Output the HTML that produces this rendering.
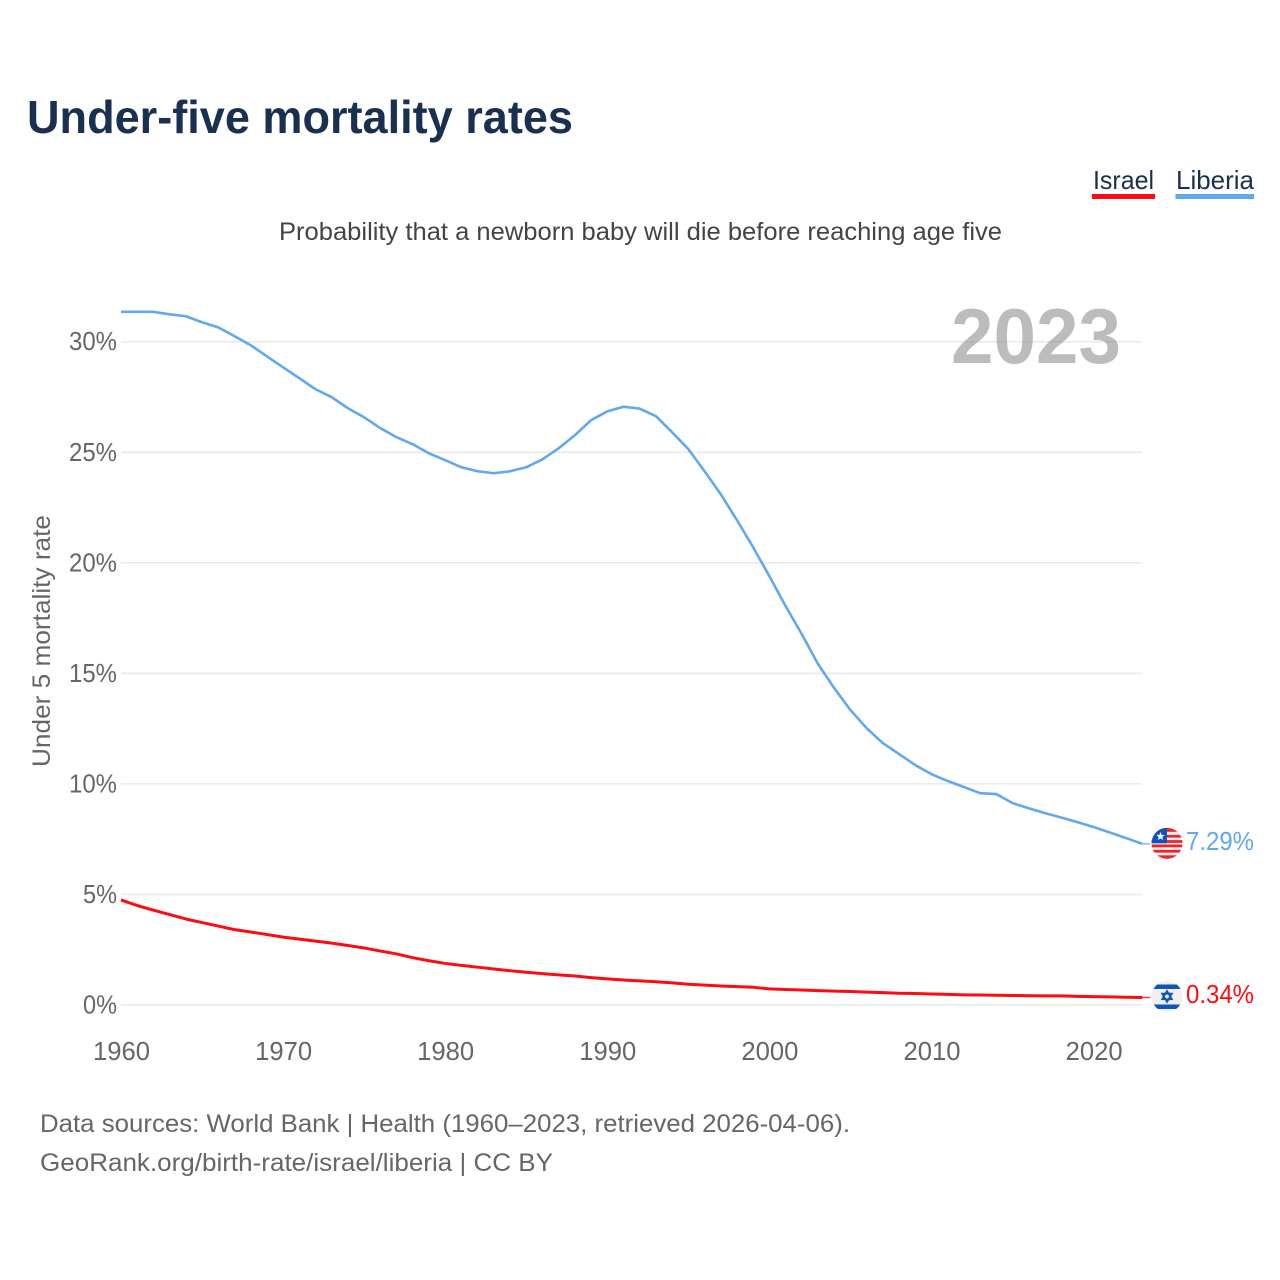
<!DOCTYPE html>
<html lang="en">
<head>
<meta charset="utf-8">
<title>Under-five mortality rates</title>
<style>
html,body{margin:0;padding:0;background:#fff;width:1280px;height:1280px;overflow:hidden}
svg{display:block}
text{font-family:"Liberation Sans",sans-serif}
</style>
</head>
<body>
<svg id="chart" xmlns="http://www.w3.org/2000/svg" width="1280" height="1280" viewBox="0 0 1280 1280">
  <defs>
    <clipPath id="flag-clip-a"><circle cx="0" cy="0" r="15.5"/></clipPath>
  </defs>
  <rect x="0" y="0" width="1280" height="1280" fill="#fff"/>
  <text x="27" y="133" font-size="46" font-weight="700" fill="#1a3050" textLength="546" lengthAdjust="spacingAndGlyphs">Under-five mortality rates</text>
  <text x="279" y="240" font-size="25" fill="#444" textLength="723" lengthAdjust="spacingAndGlyphs">Probability that a newborn baby will die before reaching age five</text>

  <g>
    <text x="1093" y="189" font-size="26" fill="#1a3050" textLength="61" lengthAdjust="spacingAndGlyphs">Israel</text>
    <rect x="1092" y="194" width="63" height="5" fill="#ff0a12"/>
    <text x="1176" y="189" font-size="26" fill="#1a3050" textLength="78" lengthAdjust="spacingAndGlyphs">Liberia</text>
    <rect x="1175.500" y="194" width="78.500" height="5" fill="#62a8ef"/>
  </g>

  <text transform="translate(50,767) rotate(-90)" x="0" y="0" font-size="25" fill="#666" textLength="252" lengthAdjust="spacingAndGlyphs">Under 5 mortality rate</text>
  <g id="grid"></g>
  <g id="yticks"></g>
  <g id="xticks"></g>

  <text x="951" y="363" font-size="78" font-weight="700" fill="#8f9091" opacity="0.6" textLength="170" lengthAdjust="spacingAndGlyphs">2023</text>

  <g id="lines"></g>
  <g id="ends"></g>

  <g id="flag-liberia-art" clip-path="url(#flag-clip-a)" style="display:none">
    <rect x="-16" y="-16" width="32" height="32" fill="#f0f0f0"/>
    <rect x="-16" y="-16" width="32" height="4.500" fill="#f0232b"/>
    <rect x="-16" y="-8.500" width="32" height="2.800" fill="#f0232b"/>
    <rect x="-16" y="-3.200" width="32" height="2.800" fill="#f0232b"/>
    <rect x="-16" y="1.200" width="32" height="2.800" fill="#f0232b"/>
    <rect x="-16" y="6.500" width="32" height="2.800" fill="#f0232b"/>
    <rect x="-16" y="12" width="32" height="4" fill="#f0232b"/>
    <rect x="-16" y="-16" width="16" height="16" fill="#0f55b8"/>
    <polygon points="-6.500,-11.500 -5.400,-8.500 -2.300,-8.300 -4.700,-6.300 -3.900,-3.300 -6.500,-5 -9.100,-3.300 -8.300,-6.300 -10.700,-8.300 -7.600,-8.500" fill="#fff"/>
  </g>
  <g id="flag-israel-art" clip-path="url(#flag-clip-a)" style="display:none">
    <rect x="-16" y="-16" width="32" height="32" fill="#f0f0f0"/>
    <rect x="-16" y="-12" width="32" height="4.500" fill="#0f55b8"/>
    <rect x="-16" y="8" width="32" height="4.500" fill="#0f55b8"/>
    <polygon points="0,-5.500 4.800,2.800 -4.800,2.800" fill="none" stroke="#0f55b8" stroke-width="1.800"/>
    <polygon points="0,5.500 4.800,-2.800 -4.800,-2.800" fill="none" stroke="#0f55b8" stroke-width="1.800"/>
  </g>

  <text x="40" y="1132" font-size="25" fill="#666" textLength="810" lengthAdjust="spacingAndGlyphs">Data sources: World Bank | Health (1960–2023, retrieved 2026-04-06).</text>
  <text x="40" y="1171" font-size="25" fill="#666" textLength="513" lengthAdjust="spacingAndGlyphs">GeoRank.org/birth-rate/israel/liberia | CC BY</text>
</svg>
<script>
var firstYear = 1960;
var yTicks = [0, 5, 10, 15, 20, 25, 30];
var xTicks = [1960, 1970, 1980, 1990, 2000, 2010, 2020];
var liberia = [31.35,31.35,31.35,31.24,31.15,30.88,30.65,30.25,29.84,29.34,28.84,28.35,27.85,27.49,26.99,26.58,26.09,25.68,25.36,24.95,24.64,24.32,24.14,24.05,24.14,24.32,24.68,25.18,25.77,26.45,26.85,27.06,26.97,26.63,25.9,25.14,24.14,23.1,21.93,20.7,19.39,18.04,16.77,15.42,14.33,13.34,12.52,11.84,11.35,10.85,10.44,10.13,9.86,9.58,9.54,9.13,8.9,8.68,8.48,8.27,8.05,7.8,7.55,7.29];
var israel = [4.75,4.5,4.29,4.09,3.89,3.73,3.57,3.41,3.3,3.19,3.07,2.98,2.89,2.8,2.69,2.58,2.44,2.31,2.14,2.0,1.88,1.79,1.71,1.63,1.55,1.48,1.42,1.36,1.31,1.24,1.18,1.13,1.09,1.05,1.0,0.94,0.9,0.86,0.83,0.8,0.73,0.7,0.68,0.65,0.63,0.61,0.58,0.56,0.53,0.52,0.5,0.48,0.46,0.45,0.44,0.43,0.42,0.41,0.41,0.39,0.38,0.37,0.35,0.34];

var NS = 'http://www.w3.org/2000/svg';
function xScale(year) { return 121 + (year - 1960) * 16.21; }
function yScale(v) { return 1005 - v * 22.11; }
function make(tag, attrs, parent) {
  var el = document.createElementNS(NS, tag);
  for (var k in attrs) el.setAttribute(k, attrs[k]);
  parent.appendChild(el);
  return el;
}

var grid = document.getElementById('grid');
var yT = document.getElementById('yticks');
yTicks.forEach(function (t) {
  var line = make('line', {x1: 121, x2: 1142, y1: yScale(t), y2: yScale(t), stroke: '#e9e9e9', 'stroke-width': 1.5}, grid);
  
  
  var txt = t + '%';
  var lab = make('text', {x: 117, y: yScale(t) + 8.500, 'text-anchor': 'end', 'font-size': 25.500, fill: '#666', textLength: (txt.length - 1) * 14 + 20, lengthAdjust: 'spacingAndGlyphs'}, yT);
  
  
  lab.textContent = txt;
});

var xT = document.getElementById('xticks');
xTicks.forEach(function (t) {
  var lab = make('text', {x: xScale(t) + 0.500, y: 1060, 'text-anchor': 'middle', 'font-size': 25.500, fill: '#666', textLength: 57, lengthAdjust: 'spacingAndGlyphs'}, xT);
  
  
  lab.textContent = t;
});

function pathFor(values) {
  return values.map(function (v, i) {
    return (i ? 'L' : 'M') + xScale(firstYear + i).toFixed(2) + ' ' + yScale(v).toFixed(2);
  }).join(' ');
}
var lines = document.getElementById('lines');

var libLine = make('path', {d: pathFor(liberia), fill: 'none', stroke: '#62a8ef', 'stroke-width': 2.6, 'stroke-linejoin': 'round'}, lines);



var isrLine = make('path', {d: pathFor(israel), fill: 'none', stroke: '#ff0a12', 'stroke-width': 3, 'stroke-linejoin': 'round'}, lines);



var ends = document.getElementById('ends');
function endLabel(values, color, flagId, flagOffset) {
  var last = values[values.length - 1];
  var y = yScale(last);
  var x = xScale(firstYear + values.length - 1);
  var conn = make('line', {x1: x, x2: x + 8, y1: y, y2: y, stroke: color, 'stroke-width': 1.5, opacity: 0.8}, ends);
  
  
  var flag = document.getElementById(flagId);
  flag.setAttribute('transform', 'translate(1167,' + (y + flagOffset) + ')');
  flag.style.display = '';
  var lab = make('text', {x: 1186, y: y + flagOffset + 6.500, 'font-size': 25.500, fill: color, textLength: 68, lengthAdjust: 'spacingAndGlyphs'}, ends);
  
  
  lab.textContent = last.toFixed(2) + '%';
}
endLabel(liberia, '#62a8ef', 'flag-liberia-art', -0.5);
endLabel(israel, '#ff0a12', 'flag-israel-art', -1);
</script>
</body>
</html>
